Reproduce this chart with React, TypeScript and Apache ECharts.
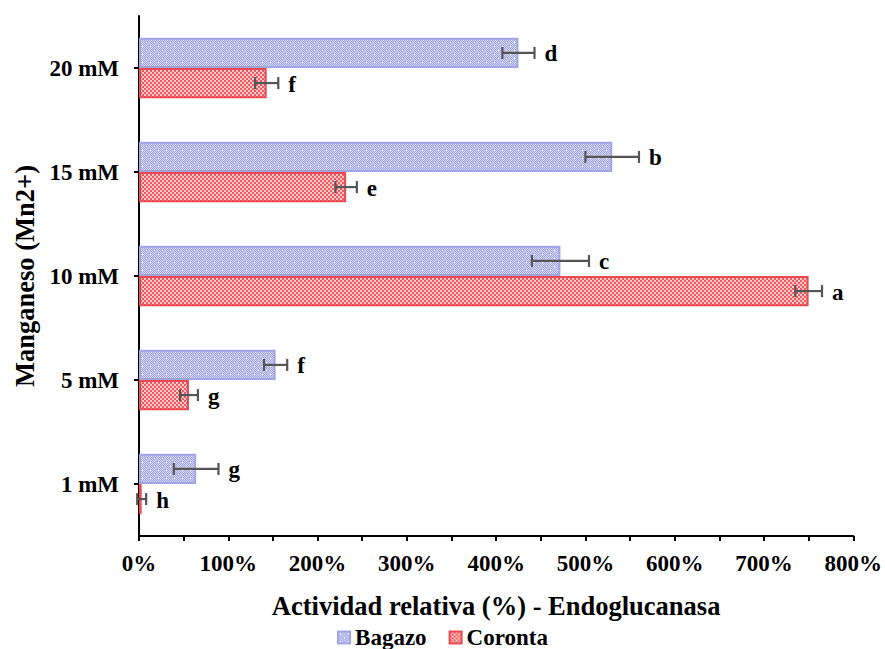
import React, { useEffect, useRef } from "react";
import * as echarts from "echarts";

// Manganese concentrations, bottom to top
const categories = ["1 mM", "5 mM", "10 mM", "15 mM", "20 mM"];

// Relative endoglucanase activity (%) and standard error
const bagazoValues = [64, 153, 472, 530, 425];
const bagazoErrors = [25, 13, 32, 30, 18];
const bagazoLetters = ["g", "f", "c", "b", "d"];

const corontaValues = [3, 56, 750, 232, 143];
const corontaErrors = [5, 10, 15, 12, 13];
const corontaLetters = ["h", "g", "a", "e", "f"];

const xTicks = [0, 100, 200, 300, 400, 500, 600, 700, 800];

const SERIF = '"Liberation Serif", "Times New Roman", serif';
const CAT_GAP = 0.42;

function makePattern(kind: "blue" | "red") {
  const c = document.createElement("canvas");
  const size = kind === "blue" ? 8 : 4;
  c.width = size;
  c.height = size;
  const ctx = c.getContext("2d")!;
  for (let y = 0; y < size; y++) {
    for (let x = 0; x < size; x++) {
      if (kind === "blue") {
        ctx.fillStyle = (x + y) % 2 === 0 ? "#a6abe6" : "#cfd2f3";
      } else {
        ctx.fillStyle = (Math.floor(x / 2) + Math.floor(y / 2)) % 2 === 0 ? "#ef5a5e" : "#fbc9c9";
      }
      ctx.fillRect(x, y, 1, 1);
    }
  }
  if (kind === "blue") {
    ctx.fillStyle = "#ffffff";
    ctx.fillRect(2, 2, 1, 1);
    ctx.fillRect(6, 6, 1, 1);
  }
  return { image: c.toDataURL(), repeat: "repeat", imageWidth: size, imageHeight: size } as any;
}

function errorSeries(values: number[], errors: number[], letters: string[], top: boolean) {
  return {
    type: "custom",
    silent: true,
    z: 5,
    data: values.map((v, i) => [v, i, errors[i]]),
    encode: { x: 0, y: 1 },
    renderItem: (params: any, api: any) => {
      const v = api.value(0);
      const cat = api.value(1);
      const e = api.value(2);
      const center = api.coord([v, cat]);
      const band = api.size([0, 1])[1];
      const barH = (band * (1 - CAT_GAP)) / 2;
      const y = center[1] + (top ? -barH / 2 : barH / 2);
      const x0 = api.coord([v - e, cat])[0];
      const x1 = api.coord([v + e, cat])[0];
      const cap = 6;
      const lineStyle = { stroke: "#555555", lineWidth: 2.2 };
      return {
        type: "group",
        children: [
          { type: "line", shape: { x1: x0, y1: y, x2: x1, y2: y }, style: lineStyle },
          { type: "line", shape: { x1: x0, y1: y - cap, x2: x0, y2: y + cap }, style: lineStyle },
          { type: "line", shape: { x1: x1, y1: y - cap, x2: x1, y2: y + cap }, style: lineStyle },
          {
            type: "text",
            style: {
              text: letters[params.dataIndex],
              x: x1 + 10,
              y: y + 1,
              fill: "#000",
              font: `bold 23px ${SERIF}`,
              textAlign: "left",
              textVerticalAlign: "middle",
              align: "left",
              verticalAlign: "middle",
            },
          },
        ],
      };
    },
  };
}

export default function App() {
  const ref = useRef<HTMLDivElement>(null);

  useEffect(() => {
    if (!ref.current) return;
    const chart = echarts.init(ref.current, null, { renderer: "svg" });
    const bluePattern = makePattern("blue");
    const redPattern = makePattern("red");

    chart.setOption({
      animation: false,
      backgroundColor: "#ffffff",
      grid: { left: 139, right: 28, top: 16, bottom: 113, containLabel: false },
      legend: {
        data: ["Bagazo", "Coronta"],
        bottom: 0,
        left: "center",
        padding: 0,
        icon: "rect",
        itemWidth: 12,
        itemHeight: 12,
        itemGap: 22,
        textStyle: { fontFamily: SERIF, fontWeight: "bold", fontSize: 23, color: "#000" },
      },
      xAxis: {
        type: "value",
        min: 0,
        max: 800,
        interval: 50,
        name: "Actividad relativa (%) - Endoglucanasa",
        nameLocation: "middle",
        nameGap: 56,
        nameTextStyle: { fontFamily: SERIF, fontWeight: "bold", fontSize: 26.5, color: "#000" },
        axisLine: { show: true, lineStyle: { color: "#000", width: 2 } },
        axisTick: { show: true, length: 5, lineStyle: { color: "#000", width: 2 } },
        splitLine: { show: false },
        axisLabel: {
          margin: 16,
          fontFamily: SERIF,
          fontWeight: "bold",
          fontSize: 23,
          color: "#000",
          formatter: (v: number) => (xTicks.includes(v) ? `${v}%` : ""),
        },
      },
      yAxis: {
        type: "category",
        data: categories,
        name: "Manganeso (Mn2+)",
        nameLocation: "middle",
        nameGap: 99,
        nameTextStyle: { fontFamily: SERIF, fontWeight: "bold", fontSize: 26.5, color: "#000" },
        axisLine: { show: true, lineStyle: { color: "#000", width: 2 } },
        axisTick: { show: true, length: 5, alignWithLabel: true, lineStyle: { color: "#000", width: 2 } },
        axisLabel: { margin: 20, fontFamily: SERIF, fontWeight: "bold", fontSize: 23, color: "#000" },
      },
      series: [
        {
          name: "Bagazo",
          type: "bar",
          data: bagazoValues,
          barGap: "0%",
          barCategoryGap: `${CAT_GAP * 100}%`,
          itemStyle: { color: bluePattern, borderColor: "#a0a5e2", borderWidth: 2 },
        },
        {
          name: "Coronta",
          type: "bar",
          data: corontaValues,
          barGap: "0%",
          barCategoryGap: `${CAT_GAP * 100}%`,
          itemStyle: { color: redPattern, borderColor: "#ec4a50", borderWidth: 2 },
        },
        errorSeries(bagazoValues, bagazoErrors, bagazoLetters, true),
        errorSeries(corontaValues, corontaErrors, corontaLetters, false),
      ],
    });

    return () => chart.dispose();
  }, []);

  return (
    <div
      ref={ref}
      style={{ position: "absolute", left: 0, top: 0, width: 885, height: 649, background: "#fff" }}
    />
  );
}
